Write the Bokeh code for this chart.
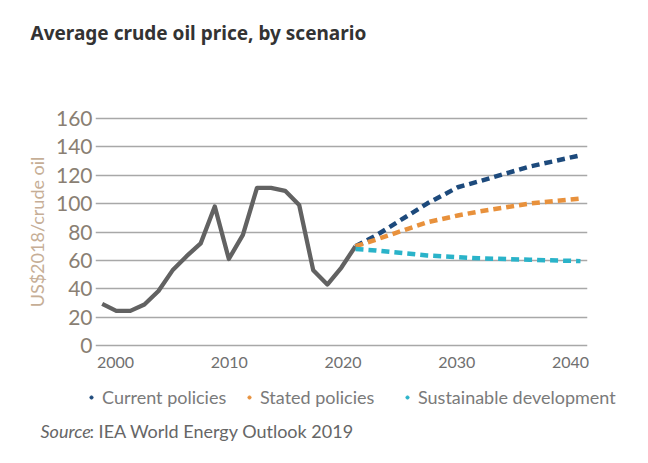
from bokeh.plotting import figure
from bokeh.models import Range1d, Label, Legend, LegendItem, FixedTicker
from bokeh.layouts import column
from bokeh.embed import file_html
from bokeh.resources import INLINE

# ---- data ----
hist_years = list(range(2000, 2019))
hist_price = [29.4, 24.5, 24.5, 29, 38.5, 53, 63, 72, 98, 61, 78, 111, 111, 109, 99, 53, 43, 55, 70]

proj_years = [2018, 2020, 2025, 2028, 2030, 2035, 2040]
current_policies = [70, 77.5, 100, 111.5, 115.5, 126, 134]
stated_policies = [70, 74.6, 86.8, 91.6, 94.3, 100, 103.6]
sustainable_dev = [68, 67, 63.5, 62.3, 61.5, 60.5, 59.5]

x_ticks = [2000, 2010, 2020, 2030, 2040]
y_ticks = [0, 20, 40, 60, 80, 100, 120, 140, 160]

series_names = ["Current policies", "Stated policies", "Sustainable development"]
series_colors = ["#1d4a7c", "#e8913c", "#2ab3c9"]

W = 632
H0, H1, H2 = 60, 320, 67
FONT = "Lato"
NAN = float("nan")


def strip(height):
    f = figure(width=W, height=height, output_backend="svg", toolbar_location=None,
               x_range=Range1d(0, 1), y_range=Range1d(0, 1),
               min_border_left=0, min_border_right=0, min_border_top=0, min_border_bottom=0)
    f.frame_align = False
    f.axis.visible = False
    f.grid.visible = False
    f.outline_line_color = None
    f.background_fill_color = "white"
    f.border_fill_color = "white"
    return f


# ---- title strip ----
p0 = strip(H0)
p0.add_layout(Label(x=30, y=H0 - 32, x_units="screen", y_units="screen",
                    text="Average crude oil price, by scenario", text_font="Noto Sans",
                    text_font_style="bold", text_font_size="19px", text_color="#333333",
                    text_baseline="middle"))

# ---- main chart ----
p = figure(width=W, height=H1, output_backend="svg", toolbar_location=None,
           x_range=Range1d(1998.24, 2041.49), y_range=Range1d(-2, 162),
           min_border_left=95, min_border_right=W - 587, min_border_top=55,
           min_border_bottom=32)
p.frame_align = False
p.extra_x_ranges = {"hist": Range1d(1999.524, 2034.49), "proj": Range1d(1992.58, 2040.685)}
p.outline_line_color = None
p.background_fill_color = "white"
p.border_fill_color = "white"

p.xgrid.grid_line_color = None
p.ygrid.grid_line_color = "#a8a8a8"
p.ygrid.grid_line_width = 1.3
p.yaxis.ticker = FixedTicker(ticks=y_ticks)
p.xaxis.ticker = FixedTicker(ticks=x_ticks)

for ax in (p.xaxis, p.yaxis):
    ax.axis_line_color = None
    ax.major_tick_line_color = None
    ax.minor_tick_line_color = None
    ax.major_tick_out = 0
    ax.major_tick_in = 0
    ax.major_label_text_font = FONT

p.yaxis.major_label_text_font_size = "21px"
p.yaxis.major_label_text_color = "#8a7f73"
p.yaxis.major_label_standoff = 3
p.yaxis.axis_label = "US$2018/crude oil"
p.yaxis.axis_label_text_font = FONT
p.yaxis.axis_label_text_font_style = "normal"
p.yaxis.axis_label_text_font_size = "18px"
p.yaxis.axis_label_text_color = "#c6ae96"
p.yaxis.axis_label_standoff = 5

p.xaxis.major_label_text_font_size = "16px"
p.xaxis.major_label_text_color = "#707070"
p.xaxis.major_label_standoff = 8

# historical line
p.line(hist_years, hist_price, x_range_name="hist", line_color="#626262", line_width=4.3,
       line_join="round")

# projections
for vals, col in zip([current_policies, stated_policies, sustainable_dev], series_colors):
    p.line(proj_years, vals, x_range_name="proj", line_color=col, line_width=4.5,
           line_dash="8 5", line_cap="butt")

# ---- legend and source strip ----
p2 = strip(H2)
dot_x = [91, 249, 407]
for name, col, dx in zip(series_names, series_colors, dot_x):
    r = p2.scatter(x=[NAN], y=[NAN], size=8, marker="circle", fill_color=col, line_color=col)
    lg = Legend(items=[LegendItem(label=name, renderers=[r])], location=(dx - 4, H2 - 28),
                padding=0, margin=0, glyph_width=8, glyph_height=20, label_height=20,
                label_standoff=7, border_line_color=None, background_fill_alpha=0,
                label_text_font=FONT, label_text_font_size="18px",
                label_text_color="#7a7a7a")
    p2.add_layout(lg, "center")

p2.add_layout(Label(x=40, y=H2 - 50, x_units="screen", y_units="screen",
                    text="Source", text_font=FONT, text_font_style="italic",
                    text_font_size="18px", text_color="#666666", text_baseline="middle"))
p2.add_layout(Label(x=89, y=H2 - 50, x_units="screen", y_units="screen",
                    text=": IEA World Energy Outlook 2019", text_font=FONT,
                    text_font_size="18px", text_color="#666666", text_baseline="middle"))

open("out.html", "w").write(file_html(column(p0, p, p2, spacing=0), INLINE))
